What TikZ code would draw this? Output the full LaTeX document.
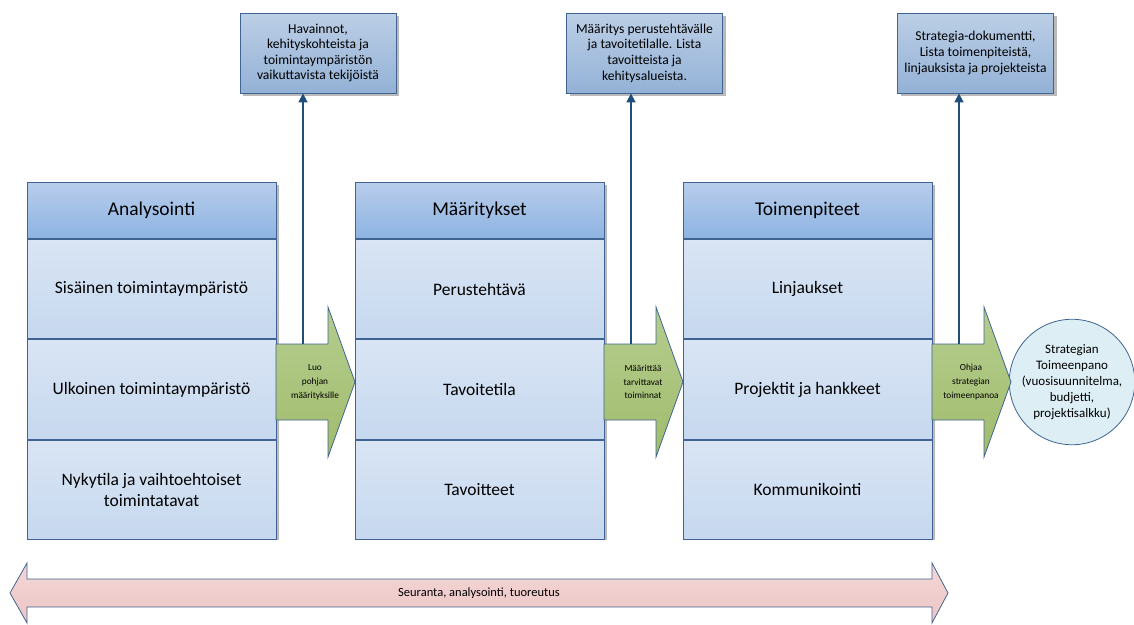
\documentclass[tikz,border=0pt]{standalone}
\usepackage{fontspec}
\setmainfont{Carlito}
\usetikzlibrary{arrows.meta}

\definecolor{edge}{HTML}{3F6492}
\definecolor{hdrtop}{HTML}{B8CDEB}
\definecolor{hdrbot}{HTML}{8DB3E2}
\definecolor{rowtop}{HTML}{D9E5F4}
\definecolor{rowbot}{HTML}{C6D8EF}
\definecolor{notetop}{HTML}{BCCFE6}
\definecolor{notebot}{HTML}{93B1D6}
\definecolor{greentop}{HTML}{B6CD8F}
\definecolor{greenbot}{HTML}{A0BC6C}
\definecolor{pinktop}{HTML}{F4D6D6}
\definecolor{pinkbot}{HTML}{ECC6C5}
\definecolor{circfill}{HTML}{DDEFF5}
\definecolor{navy}{HTML}{1F4E79}
\definecolor{shade}{HTML}{8C8C8C}

\tikzset{
  header/.style={draw=edge, line width=0.8pt, top color=hdrtop, bottom color=hdrbot,
    minimum width=249pt, minimum height=56pt, inner sep=0pt, anchor=north,
    font=\fontsize{19.5}{23}\selectfont},
  cell/.style={draw=edge, line width=0.8pt, top color=rowtop, bottom color=rowbot,
    minimum width=249pt, minimum height=99.67pt, inner sep=0pt, anchor=north,
    align=center, font=\fontsize{17.5}{21.5}\selectfont},
  note/.style={draw=edge, line width=0.8pt, top color=notetop, bottom color=notebot,
    minimum width=156pt, minimum height=80pt, inner sep=0pt, align=center,
    font=\fontsize{13.6}{15.6}\selectfont},
  flowarrow/.style={draw=edge, line width=0.8pt, top color=greentop, bottom color=greenbot},
  flowtext/.style={align=center, inner sep=0pt, font=\fontsize{9.3}{13.8}\selectfont},
  outlink/.style={draw=navy, line width=1.6pt, -{Triangle[length=9pt,width=9pt]}},
  shadowbox/.style={fill=shade, opacity=0.6},
}

\begin{document}
\begin{tikzpicture}[x=1pt, y=-1pt]
\useasboundingbox (0,0) rectangle (1134,624);

% drop shadows behind the three columns and the three notes
\foreach \cx in {27,355,683}
  \fill[shadowbox] (\cx+3,185) rectangle (\cx+252,540);
\foreach \nx in {240,567,898}
  \fill[shadowbox] (\nx+3,16) rectangle (\nx+159,96);

% columns: a header and three rows each
\node[header] (h1) at (151.5,182) {Analysointi};
\node[cell] (a1) at (h1.south) {Sisäinen toimintaympäristö};
\node[cell] (a2) at (a1.south) {Ulkoinen toimintaympäristö};
\node[cell] (a3) at (a2.south) {Nykytila ja vaihtoehtoiset\\toimintatavat};

\node[header] (h2) at (479.5,182) {Määritykset};
\node[cell] (b1) at (h2.south) {Perustehtävä};
\node[cell] (b2) at (b1.south) {Tavoitetila};
\node[cell] (b3) at (b2.south) {Tavoitteet};

\node[header] (h3) at (807.5,182) {Toimenpiteet};
\node[cell] (c1) at (h3.south) {Linjaukset};
\node[cell] (c2) at (c1.south) {Projektit ja hankkeet};
\node[cell] (c3) at (c2.south) {Kommunikointi};

% notes above the columns
\node[note] (n1) at (318,53) {Havainnot,\\kehityskohteista ja\\toimintaympäristön\\vaikuttavista tekijöistä};
\node[note] (n2) at (644.5,53) {Määritys perustehtävälle\\ja tavoitetilalle. Lista\\tavoitteista ja\\kehitysalueista.};
\node[note] (n3) at (975.5,53) {Strategia-dokumentti,\\Lista toimenpiteistä,\\linjauksista ja projekteista};

% implementation circle
\node[circle, draw=edge, line width=0.8pt, fill=circfill, minimum size=122pt,
  inner sep=0pt, align=center, font=\fontsize{13}{16}\selectfont] (impl) at (1072,382)
  {Strategian\\Toimeenpano\\(vuosisuunnitelma,\\budjetti,\\projektisalkku)};

% green block arrows between the stages
\foreach \x/\name/\txt in {276/g1/{Luo\\pohjan\\määrityksille},
                           604/g2/{Määrittää\\tarvittavat\\toiminnat},
                           932/g3/{Ohjaa\\strategian\\toimeenpanoa}} {
  \path[flowarrow] (\x,344) -- (\x+52,344) -- (\x+52,307) -- (\x+79,382)
    -- (\x+52,457) -- (\x+52,420) -- (\x,420) -- cycle;
  \node[flowtext] (\name) at (\x+39,382) {\txt};
  \coordinate (\name top) at (\x+27,344);
}

% outputs rising from each block arrow to its note
\draw[outlink] (g1top) -- (g1top |- n1.south);
\draw[outlink] (g2top) -- (g2top |- n2.south);
\draw[outlink] (g3top) -- (g3top |- n3.south);

% follow-up double arrow along the bottom
\path[draw=edge, line width=0.8pt, top color=pinktop, bottom color=pinkbot]
  (10,593) -- (27,563) -- (27,579) -- (932,579) -- (932,563) -- (948,593)
  -- (932,623) -- (932,607) -- (27,607) -- (27,623) -- cycle;
\node[font=\fontsize{12.5}{14}\selectfont] (loop) at (479,593) {Seuranta, analysointi, tuoreutus};
\end{tikzpicture}
\end{document}
